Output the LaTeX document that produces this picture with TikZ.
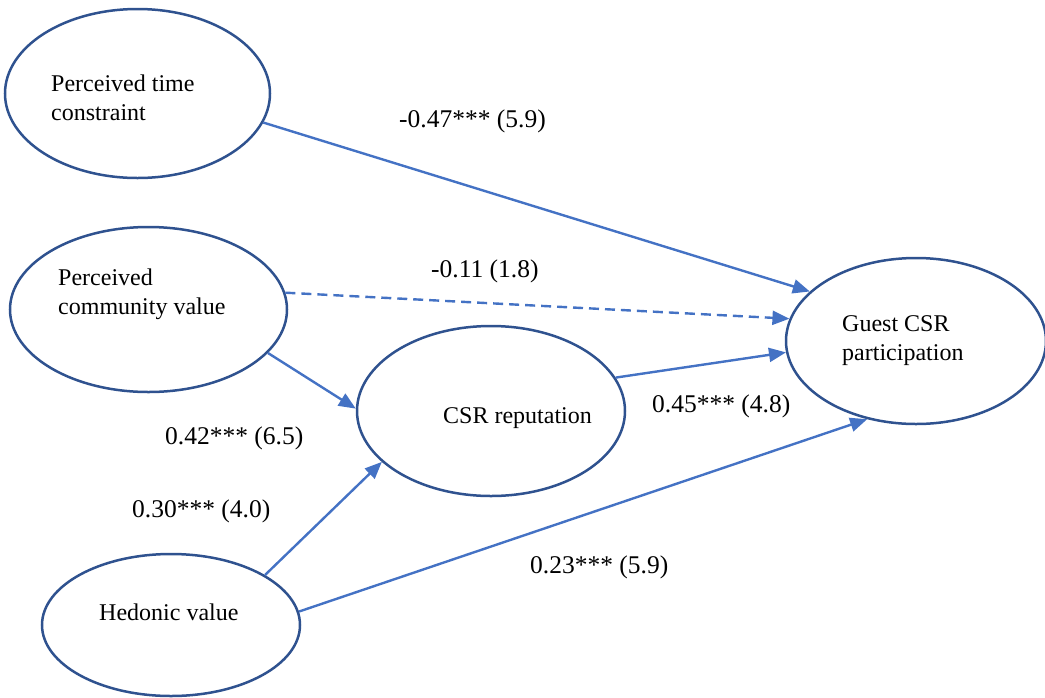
\documentclass[tikz,border=0pt]{standalone}
\usepackage{fontspec}
\setmainfont{Liberation Serif}
\usetikzlibrary{shapes.geometric,arrows.meta}
\definecolor{ovalblue}{HTML}{2F528F}
\definecolor{pathblue}{HTML}{4472C4}

\begin{document}
\begin{tikzpicture}[x=1pt,y=-1pt,
  latent/.style={ellipse,draw=ovalblue,line width=2.5pt,inner sep=0pt},
  caption/.style={anchor=base west,align=left,inner sep=0pt,font=\fontsize{24}{29}\selectfont},
  coef/.style={anchor=base west,inner sep=0pt,font=\fontsize{25.5}{30}\selectfont},
  link/.style={draw=pathblue,line width=2.4pt,-{Triangle[length=17pt,width=14pt]}}]
  \useasboundingbox (0,0) rectangle (1045,697);
  \node [latent,minimum width=265pt,minimum height=169pt] (ptc) at (137.5,93.5) {};
  \node [latent,minimum width=277pt,minimum height=165pt] (pcv) at (148.5,309.5) {};
  \node [latent,minimum width=268pt,minimum height=170pt] (csr) at (491,411) {};
  \node [latent,minimum width=260pt,minimum height=166pt] (gcp) at (916,341) {};
  \node [latent,minimum width=258pt,minimum height=142pt] (hed) at (171,625) {};
  \node [caption] (ptct) at (51,120) {Perceived time\\constraint};
  \node [caption] (pcvt) at (58,314) {Perceived\\community value};
  \node [caption] (csrt) at (443,423) {CSR reputation};
  \node [caption] (gcpt) at (842,360) {Guest CSR\\participation};
  \node [caption] (hedt) at (99,620) {Hedonic value};
  \node [coef] (c1) at (399,127) {-0.47*** (5.9)};
  \node [coef] (c2) at (431,277) {-0.11 (1.8)};
  \node [coef] (c3) at (165,444) {0.42*** (6.5)};
  \node [coef] (c4) at (132,517) {0.30*** (4.0)};
  \node [coef] (c5) at (652,412) {0.45*** (4.8)};
  \node [coef] (c6) at (530,573) {0.23*** (5.9)};
  \path[]
  (ptc.-13) edge [link] (gcp.155)
  (pcv.7) edge [link,dash pattern=on 10pt off 6pt] (gcp.170)
  (pcv.-20) edge [link] (csr.179)
  (hed.28) edge [link] (csr.205)
  (hed.6) edge [link] (gcp.238)
  (csr.15) edge [link] (gcp.185);
\end{tikzpicture}
\end{document}
